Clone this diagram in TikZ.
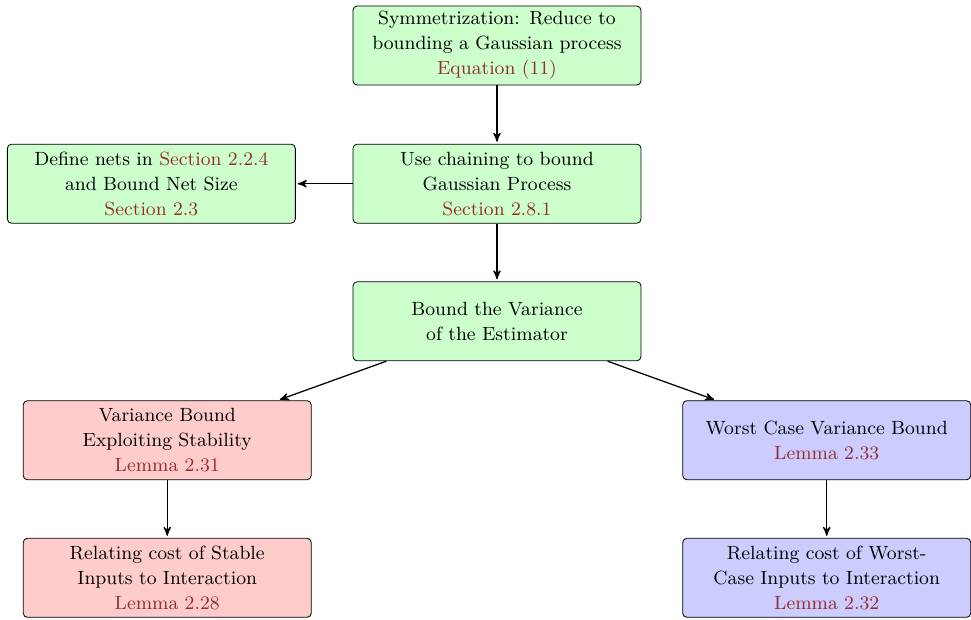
\documentclass[tikz,border=0pt]{standalone}
\usepackage{tikz}
\usetikzlibrary{arrows,positioning}

\definecolor{linkred}{RGB}{150,45,45}
\newcommand{\lnk}[1]{\textcolor{linkred}{#1}}

\begin{document}
\begin{tikzpicture}[>=stealth',shorten >=1pt,semithick,node distance=0.975cm,
	stage/.style={draw,thin,rounded corners=2pt,fill=green!20,align=center,
		text width=4.63cm,minimum height=1.335cm,inner ysep=1.5pt,
		font=\fontsize{9.2}{12}\selectfont},
	stab/.style={stage,fill=red!20},
	worst/.style={stage,fill=blue!20}]

\useasboundingbox (-8.395,0.769) rectangle (8.007,-9.704);

\node[stage]   (sym)                     {Symmetrization: Reduce to\\bounding a Gaussian process\\\lnk{Equation (11)}};
 \node[stage]  (chain) [below=0.985cm of sym]    {Use chaining to bound\\Gaussian Process\\\lnk{Section 2.8.1}};
	\node[stage]  (nets) [left=0.96cm of chain]  {Define nets in \lnk{Section 2.2.4}\\and Bound Net Size\\\lnk{Section 2.3}};
	\node[stage]  (var) [below=of chain]  {Bound the Variance\\of the Estimator};
	\node[stab]   (stable) [below=0.66cm of var,xshift=-5.57cm] {Variance Bound\\Exploiting Stability\\\lnk{Lemma 2.31}};
	\node[stab]   (stcost) [below=of stable] {Relating cost of Stable\\Inputs to Interaction\\\lnk{Lemma 2.28}};
	\node[worst]  (wc) [below=0.66cm of var,xshift=5.57cm] {Worst Case Variance Bound\\\lnk{Lemma 2.33}};
	\node[worst]  (wccost) [below=of wc] {Relating cost of Worst-\\Case Inputs to Interaction\\\lnk{Lemma 2.32}};

	\path[->] (sym) edge (chain)
		(chain) edge (nets)
			edge (var)
		(var) edge (stable)
			edge (wc)
		(stable) edge (stcost)
		(wc) edge (wccost);
\end{tikzpicture}
\end{document}
